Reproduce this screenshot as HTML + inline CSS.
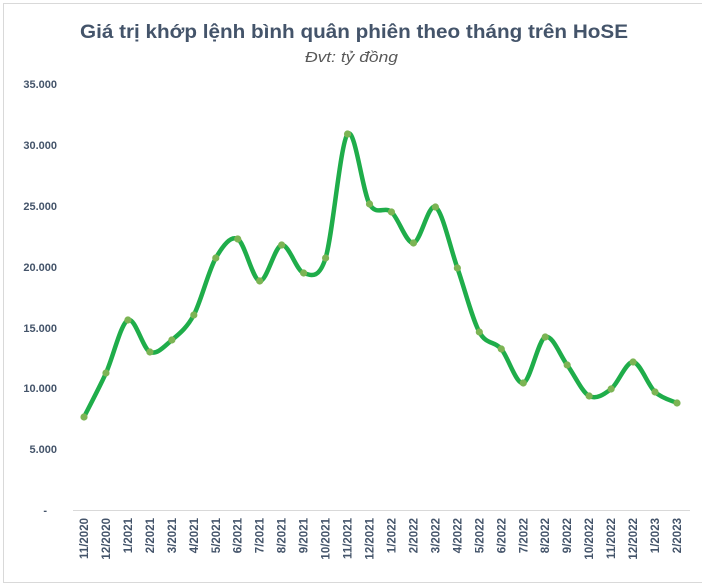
<!DOCTYPE html>
<html><head><meta charset="utf-8"><style>
html,body{margin:0;padding:0;background:#fff;}
svg{display:block;font-family:"Liberation Sans","DejaVu Sans",sans-serif;}
</style></head><body>
<svg id="c" width="702" height="587" viewBox="0 0 702 587">
<rect x="3.5" y="3.5" width="720" height="579" fill="#fff" stroke="#d9d9d9"/>
<text x="80" y="38" font-size="19" font-weight="bold" fill="#44546a" textLength="548" lengthAdjust="spacingAndGlyphs">Giá trị khớp lệnh bình quân phiên theo tháng trên HoSE</text>
<text x="305" y="62" font-size="14.5" font-style="italic" fill="#595959" textLength="93" lengthAdjust="spacingAndGlyphs">Đvt: tỷ đồng</text>
<g font-size="11" font-weight="bold" fill="#44546a" text-anchor="end">
<text x="57" y="88">35.000</text>
<text x="57" y="149">30.000</text>
<text x="57" y="210">25.000</text>
<text x="57" y="271">20.000</text>
<text x="57" y="332">15.000</text>
<text x="57" y="392">10.000</text>
<text x="57" y="453">5.000</text>
<text x="47" y="514">-</text>
</g>
<line x1="73" y1="510.5" x2="690" y2="510.5" stroke="#d9d9d9"/>
<g id="labels" font-size="11.5" font-weight="bold" fill="#44546a"></g>
<path id="ln" fill="none" stroke="#1fad4a" stroke-width="4.5" stroke-linejoin="round" stroke-linecap="round"/>
<g id="dots" fill="#7cb454"></g>
</svg>
<script>
var ys=[417,373,320,352,340,315,258,239,281,245,273,258,134,204,212,243,207,268,332,349,383,337,365,396,389,362,392,403];
var labs=["11/2020","12/2020","1/2021","2/2021","3/2021","4/2021","5/2021","6/2021","7/2021","8/2021","9/2021","10/2021","11/2021","12/2021","1/2022","2/2022","3/2022","4/2022","5/2022","6/2022","7/2022","8/2022","9/2022","10/2022","11/2022","12/2022","1/2023","2/2023"];
var x0=84,dx=(677-84)/27,pts=ys.map(function(y,i){return [x0+i*dx,y];});
var d="M"+pts[0][0]+","+pts[0][1],t=0.16;
for(var i=0;i<pts.length-1;i++){
 var p0=pts[i-1]||pts[i],p1=pts[i],p2=pts[i+1],p3=pts[i+2]||p2;
 var c1=[p1[0]+(p2[0]-p0[0])*t,p1[1]+(p2[1]-p0[1])*t];
 var c2=[p2[0]-(p3[0]-p1[0])*t,p2[1]-(p3[1]-p1[1])*t];
 d+=" C"+c1[0].toFixed(1)+","+c1[1].toFixed(1)+" "+c2[0].toFixed(1)+","+c2[1].toFixed(1)+" "+p2[0].toFixed(1)+","+p2[1];
}
document.getElementById("ln").setAttribute("d",d);
var ns="http://www.w3.org/2000/svg",g=document.getElementById("dots"),L=document.getElementById("labels");
pts.forEach(function(p,i){
 var c=document.createElementNS(ns,"circle");c.setAttribute("cx",p[0]);c.setAttribute("cy",p[1]);c.setAttribute("r",3.6);g.appendChild(c);
 var tx=document.createElementNS(ns,"text");tx.setAttribute("text-anchor","end");
 tx.setAttribute("transform","translate("+(p[0]+4)+",518) rotate(-90)");tx.textContent=labs[i];L.appendChild(tx);
});
</script>
</body></html>
